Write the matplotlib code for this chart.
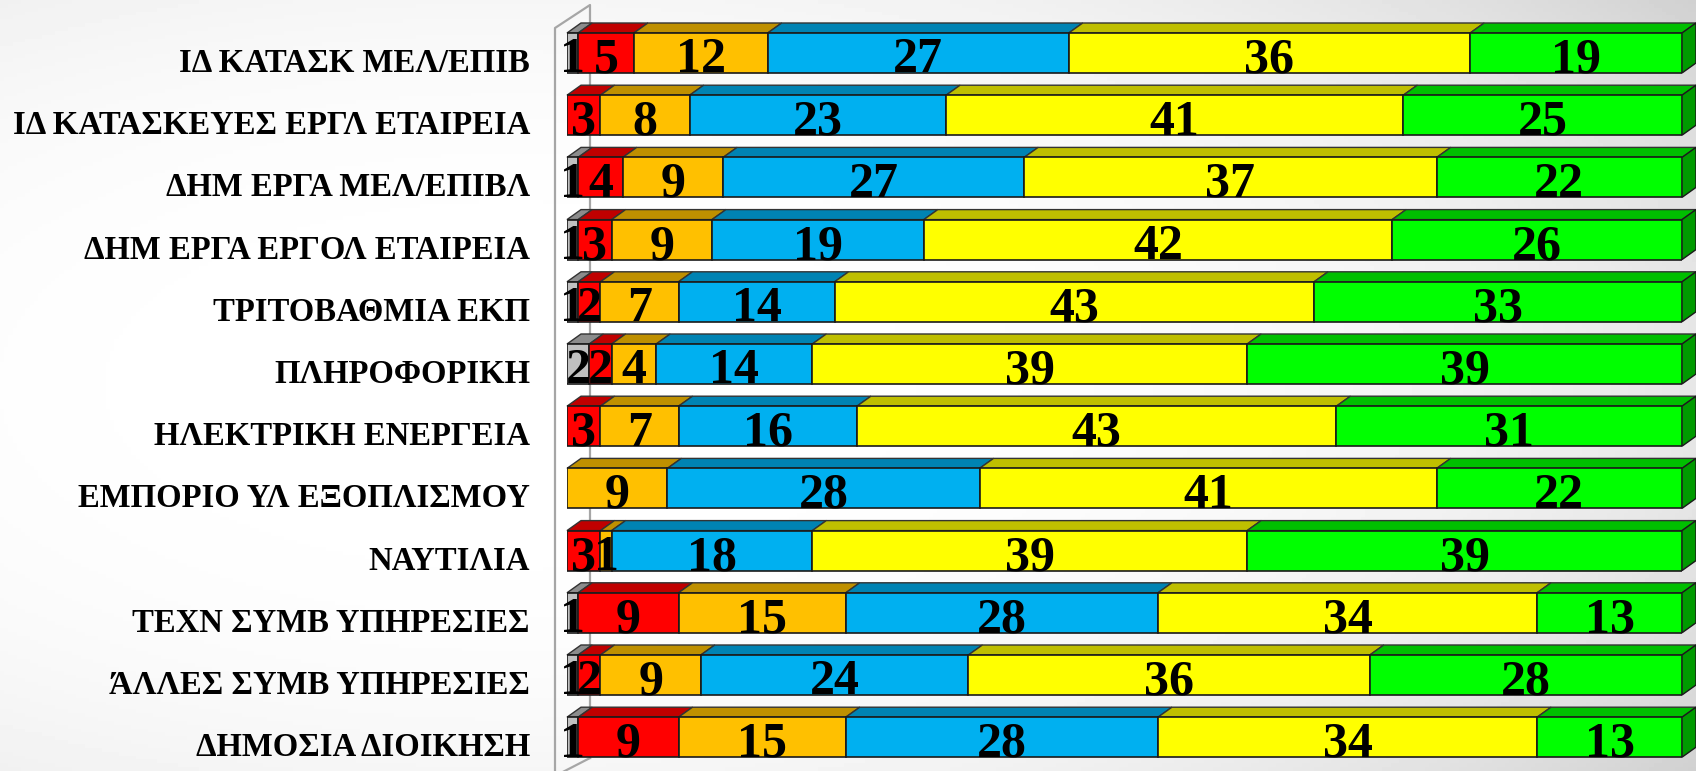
import matplotlib
matplotlib.use("Agg")
import matplotlib.pyplot as plt
import numpy as np
from matplotlib.patches import Polygon

# data (percent), top row first
categories = [
    "ΙΔ ΚΑΤΑΣΚ ΜΕΛ/ΕΠΙΒ",
    "ΙΔ ΚΑΤΑΣΚΕΥΕΣ ΕΡΓΛ ΕΤΑΙΡΕΙΑ",
    "ΔΗΜ ΕΡΓΑ ΜΕΛ/ΕΠΙΒΛ",
    "ΔΗΜ ΕΡΓΑ ΕΡΓΟΛ ΕΤΑΙΡΕΙΑ",
    "ΤΡΙΤΟΒΑΘΜΙΑ ΕΚΠ",
    "ΠΛΗΡΟΦΟΡΙΚΗ",
    "ΗΛΕΚΤΡΙΚΗ ΕΝΕΡΓΕΙΑ",
    "ΕΜΠΟΡΙΟ ΥΛ ΕΞΟΠΛΙΣΜΟΥ",
    "ΝΑΥΤΙΛΙΑ",
    "ΤΕΧΝ ΣΥΜΒ ΥΠΗΡΕΣΙΕΣ",
    "ΆΛΛΕΣ ΣΥΜΒ ΥΠΗΡΕΣΙΕΣ",
    "ΔΗΜΟΣΙΑ ΔΙΟΙΚΗΣΗ",
]
grey = [1, 0, 1, 1, 1, 2, 0, 0, 0, 1, 1, 1]
red = [5, 3, 4, 3, 2, 2, 3, 0, 3, 9, 2, 9]
orange = [12, 8, 9, 9, 7, 4, 7, 9, 1, 15, 9, 15]
blue = [27, 23, 27, 19, 14, 14, 16, 28, 18, 28, 24, 28]
yellow = [36, 41, 37, 42, 43, 39, 43, 41, 39, 34, 36, 34]
green = [19, 25, 22, 26, 33, 39, 31, 22, 39, 13, 28, 13]

series = [grey, red, orange, blue, yellow, green]
front_cols = ["#C0C0C0", "#FF0000", "#FFC000", "#00B0F0", "#FFFF00", "#00FF00"]
top_cols = ["#8C8C8C", "#C00000", "#BF9000", "#0083B3", "#BFBF00", "#00BF00"]
side_col = "#009A00"

W, H = 1696, 771
fig = plt.figure(figsize=(W / 100, H / 100), dpi=100)

# soft grey vignette behind everything, lighter on the left
bg = fig.add_axes([0, 0, 1, 1], zorder=-5)
yy, xx = np.mgrid[0:1:200j, 0:1:400j]
r = np.sqrt(((xx - 0.3) / 0.75) ** 2 + ((yy - 0.5) / 0.75) ** 2)
bg.imshow(1 - 0.12 * np.clip(r, 0, 1.3) ** 3, cmap="gray", vmin=0, vmax=1,
          aspect="auto", extent=[0, 1, 0, 1])
bg.axis("off")

# plot area: x 0..100 maps to px 567..1682, row pitch 62.2 px
left_px, right_px = 567, 1682
top_c, pitch = 53, 62.2
ax = fig.add_axes([left_px / W, 0, (right_px - left_px) / W, 1])
ax.set_xlim(0, 100)
ax.set_ylim((H - top_c) / pitch, -top_c / pitch)
ax.axis("off")
ax.patch.set_alpha(0)

px_x = 100 / (right_px - left_px)
dx, dy = 14 * px_x, 10 / pitch
h = 40 / pitch
y = np.arange(len(categories))

# back wall / axis lines
fx, bx = -12 * px_x, 23 * px_x
ax.plot([fx, fx, bx, bx], [(H + 5 - top_c) / pitch, -25 / pitch, -48 / pitch, (758 - top_c) / pitch],
        color="#A6A6A6", lw=1.6, zorder=0, clip_on=False)
ax.plot([fx, bx], [(H + 5 - top_c) / pitch, (758 - top_c) / pitch],
        color="#A6A6A6", lw=1.6, zorder=0, clip_on=False)

left = np.zeros(len(categories))
for k, vals in enumerate(series):
    vals = np.array(vals, dtype=float)
    bars = ax.barh(y, vals, height=h, left=left, color=front_cols[k],
                   edgecolor="#1A1A1A", linewidth=1.2, zorder=3)
    for i, b in enumerate(bars):
        if vals[i] == 0:
            b.set_visible(False)
            continue
        x0, x1 = b.get_x(), b.get_x() + b.get_width()
        yt = b.get_y()
        ax.add_patch(Polygon([(x0, yt), (x1, yt), (x1 + dx, yt - dy), (x0 + dx, yt - dy)],
                             closed=True, fc=top_cols[k], ec="#333333", lw=1.0, zorder=2,
                             clip_on=False))
        ax.text((x0 + x1) / 2, i + 0.12, f"{int(vals[i])}", ha="center", va="center",
                fontsize=36, fontweight="bold", family="Liberation Serif", zorder=5)
    left = left + vals

# right side face of each bar
for i in y:
    yt = i - h / 2
    ax.add_patch(Polygon([(100, yt), (100 + dx, yt - dy), (100 + dx, yt + h - dy), (100, yt + h)],
                         closed=True, fc=side_col, ec="#1A1A1A", lw=1.0, zorder=2, clip_on=False))

for i, name in enumerate(categories):
    ax.text((530 - left_px) * px_x, i + 0.17, name, ha="right", va="center",
            fontsize=23.6, fontweight="bold", family="Liberation Serif")

fig.savefig("out.png", dpi=100)
